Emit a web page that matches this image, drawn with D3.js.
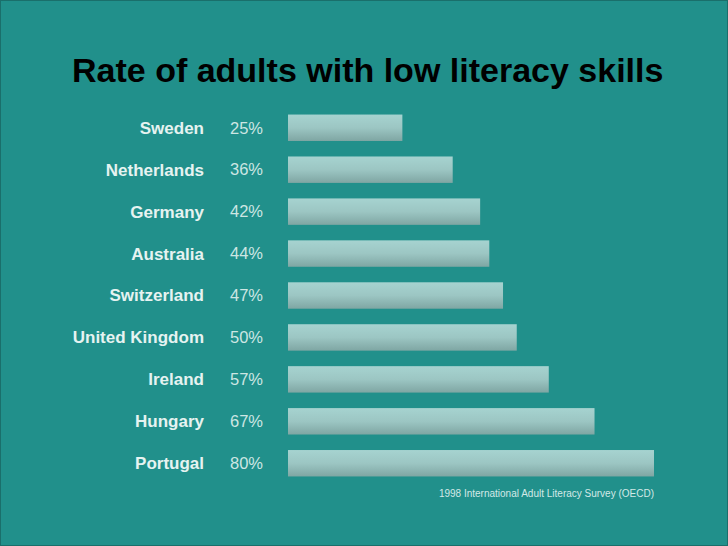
<!DOCTYPE html>
<html><head><meta charset="utf-8">
<script src="https://cdn.jsdelivr.net/npm/d3@7"></script>
<style>html,body{margin:0;padding:0;background:#21908b;}svg{display:block;}</style>
</head><body>
<script>
const countries = ["Sweden","Netherlands","Germany","Australia","Switzerland","United Kingdom","Ireland","Hungary","Portugal"];
const rates = [25,36,42,44,47,50,57,67,80];
const titleText = "Rate of adults with low literacy skills";
const sourceText = "1998 International Adult Literacy Survey (OECD)";

const W = 728, H = 546;
const svg = d3.select("body").append("svg").attr("width", W).attr("height", H);
const defs = svg.append("defs");
const g = defs.append("linearGradient").attr("id","bg").attr("x1",0).attr("y1",0).attr("x2",0).attr("y2",1);
g.append("stop").attr("offset","0%").attr("stop-color","#a6d3d0");
g.append("stop").attr("offset","50%").attr("stop-color","#9cc6c3");
g.append("stop").attr("offset","100%").attr("stop-color","#7fa6a3");

svg.append("rect").attr("width",W).attr("height",H).attr("fill","#21908b");
svg.append("rect").attr("x",0.5).attr("y",0.5).attr("width",W-1).attr("height",H-1).attr("fill","none").attr("stroke","#1a6f6b").attr("stroke-width",1);

const x = d3.scaleLinear().domain([0,80]).range([288,654]);
const y = d3.scaleBand().domain(countries).range([107,484]).paddingInner(0.37).paddingOuter(0.18);

svg.append("text").attr("x",72).attr("y",82).text(titleText)
  .attr("font-family","Liberation Sans, Arial, sans-serif").attr("font-weight","bold").attr("font-size",34).attr("fill","#000");

const rows = svg.selectAll("g.row").data(countries).join("g").attr("class","row");
rows.append("rect").attr("x",x(0)).attr("y",d=>y(d)).attr("height",y.bandwidth())
  .attr("width",(d,i)=>x(rates[i])-x(0)).attr("fill","url(#bg)");
rows.append("text").attr("x",204).attr("y",d=>y(d)+y.bandwidth()/2).attr("dy","0.35em")
  .attr("text-anchor","end").attr("font-family","Liberation Sans, Arial, sans-serif").attr("font-weight","bold")
  .attr("font-size",17).attr("fill","#e6f3f1").text(d=>d);
rows.append("text").attr("x",230).attr("y",d=>y(d)+y.bandwidth()/2).attr("dy","0.35em")
  .attr("font-family","Liberation Sans, Arial, sans-serif")
  .attr("font-size",16.5).attr("fill","#cde6e3").text((d,i)=>rates[i]+"%");

svg.append("text").attr("x",654).attr("y",497).attr("text-anchor","end")
  .attr("font-family","Liberation Sans, Arial, sans-serif").attr("font-size",10).attr("fill","#d3e9e7").text(sourceText);
</script>
</body></html>
